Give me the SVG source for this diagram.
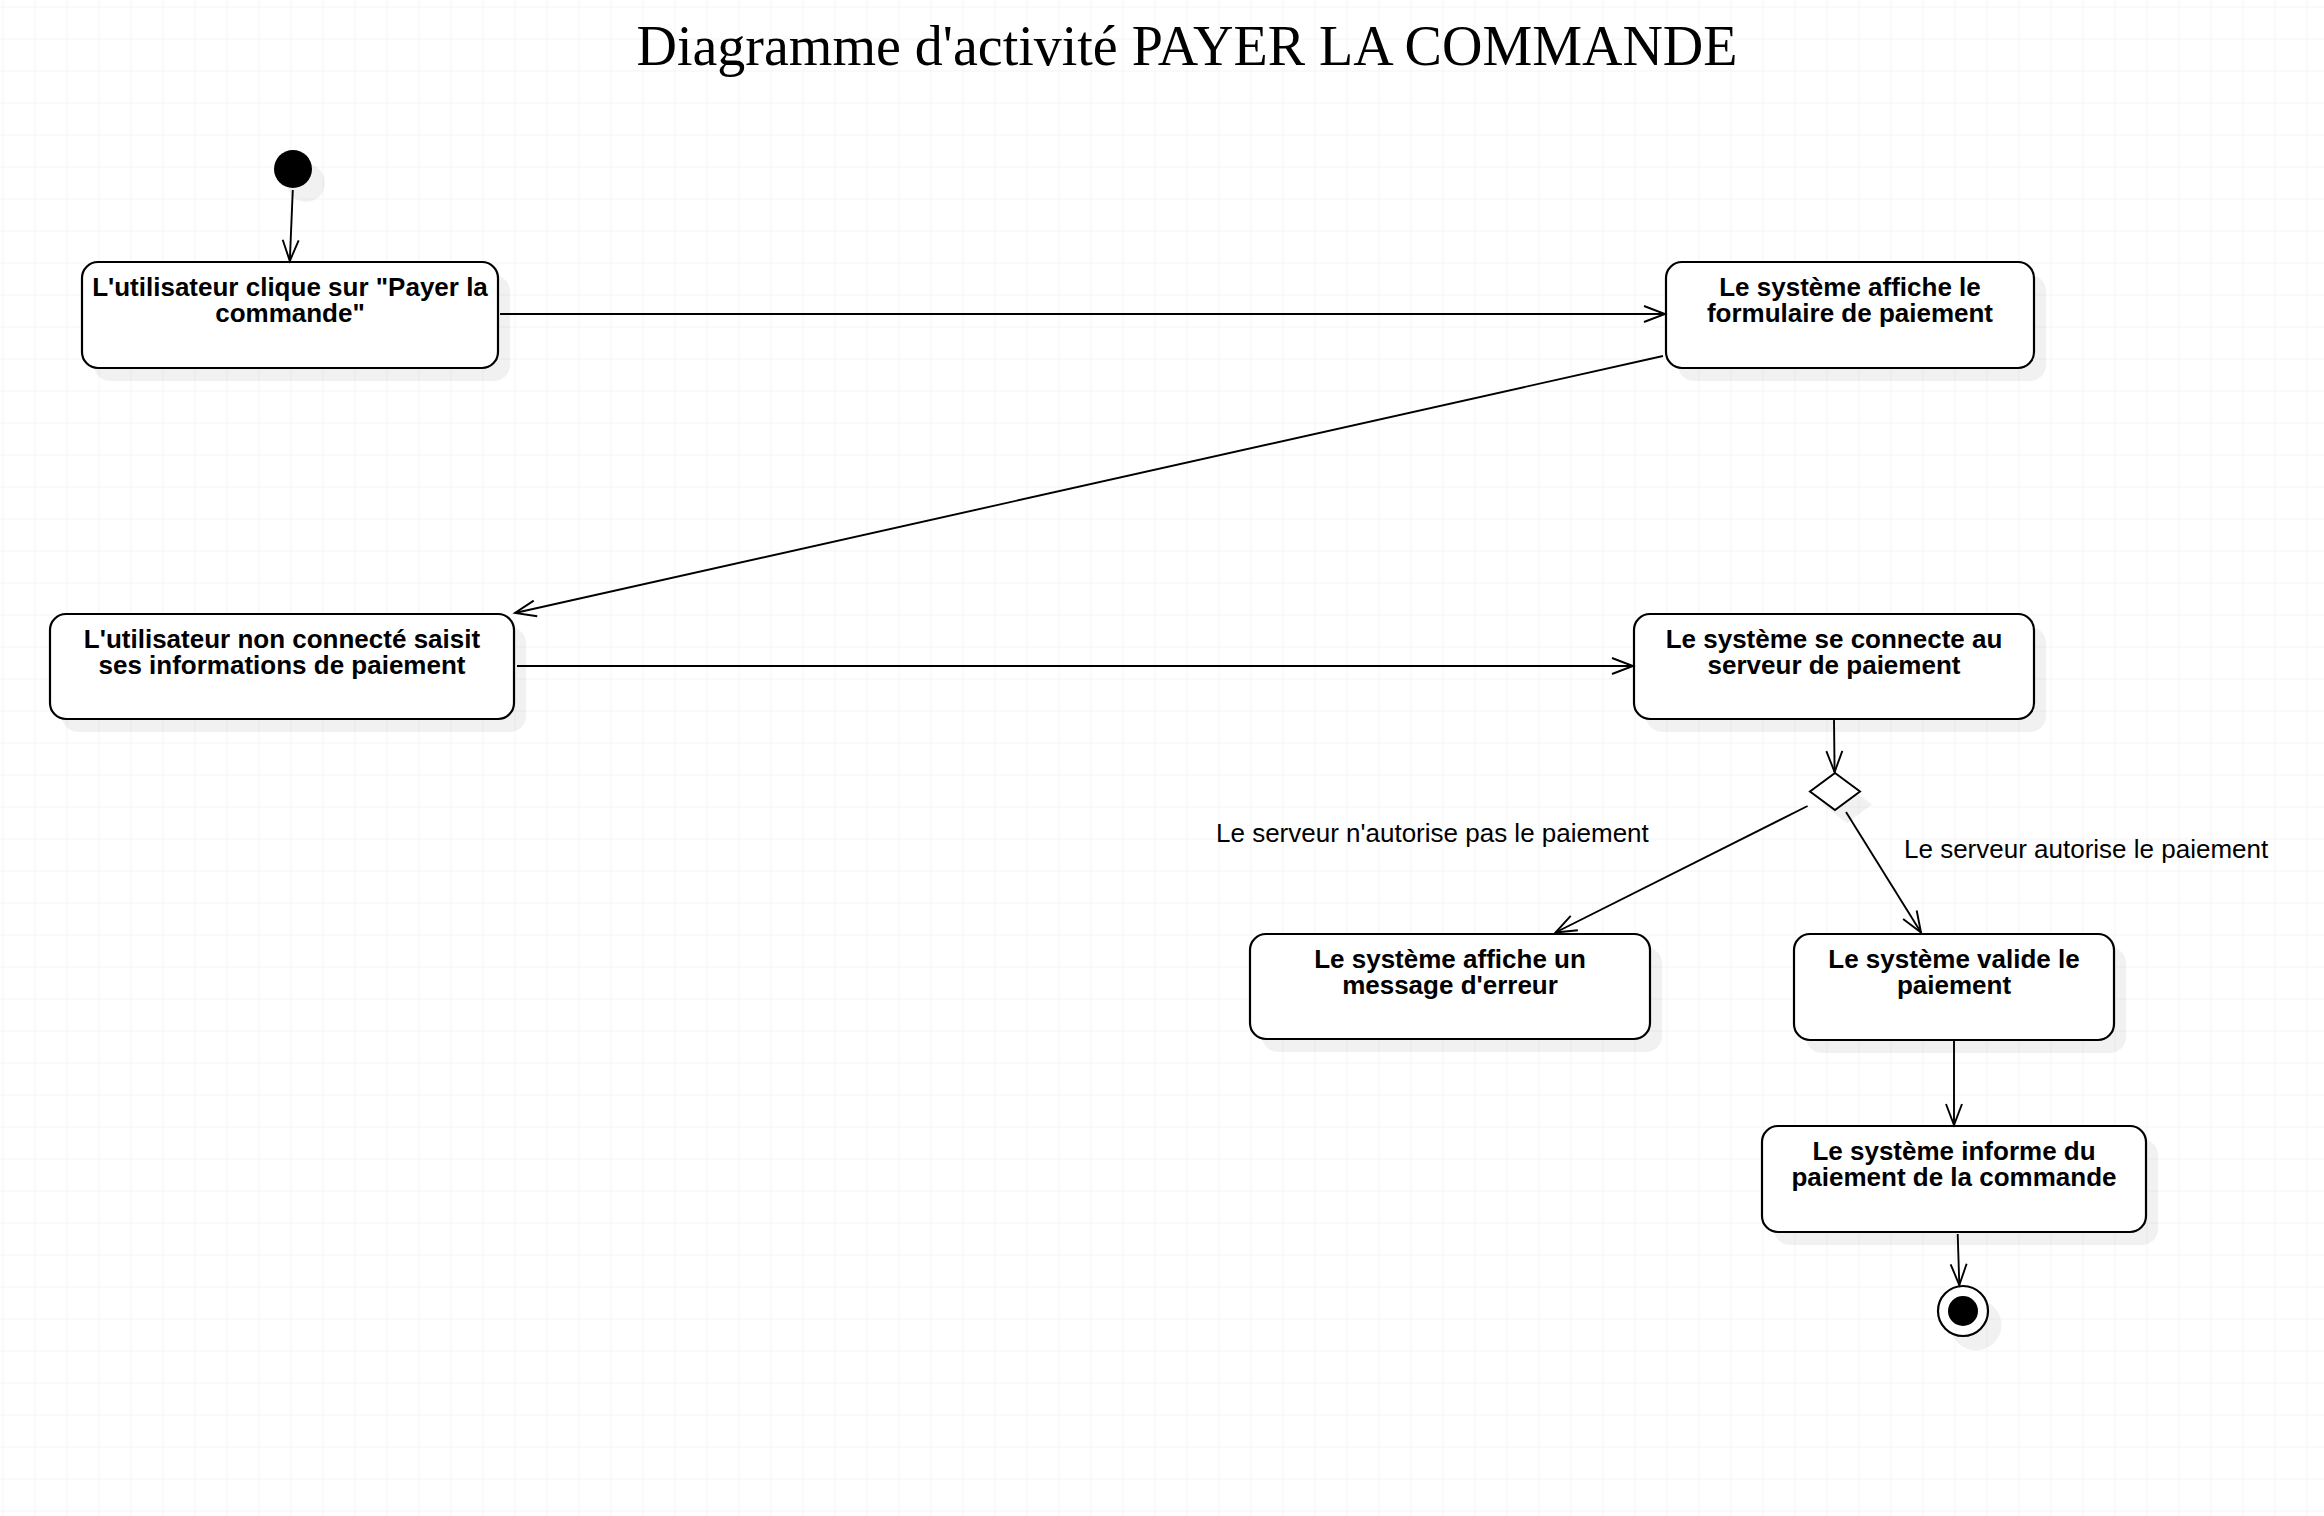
<svg xmlns="http://www.w3.org/2000/svg" width="2324" height="1516" viewBox="0 0 2324 1516">
<defs>
<pattern id="grid" patternUnits="userSpaceOnUse" x="2.5" y="6.5" width="32" height="32">
<path d="M0 0H32M0 0V32" fill="none" stroke="#ebebeb" stroke-width="1"/>
</pattern>
<marker id="open" markerUnits="userSpaceOnUse" markerWidth="24" markerHeight="20" refX="21" refY="8" orient="auto" overflow="visible">
<path d="M0 0L21 8L0 16" fill="none" stroke="#000" stroke-width="1.9"/>
</marker>
<style>
.box{fill:#fff;stroke:#000;stroke-width:2.2}
.shadow{fill:#000;fill-opacity:0.055;stroke:none}
.lbl{font-family:"Liberation Sans",Arial,sans-serif;font-weight:bold;font-size:26px;text-anchor:middle;fill:#000}
.guard{font-family:"Liberation Sans",Arial,sans-serif;font-size:26px;fill:#000}
.edge{fill:none;stroke:#000;stroke-width:1.9;marker-end:url(#open)}
</style>
</defs>
<rect width="2324" height="1516" fill="#fff"/>
<rect width="2324" height="1516" fill="url(#grid)"/>

<text x="1187" y="65" font-family="'Liberation Serif','Times New Roman',serif" font-size="56" text-anchor="middle" textLength="1101" lengthAdjust="spacingAndGlyphs" fill="#000">Diagramme d'activité PAYER LA COMMANDE</text>

<g id="start">
<circle cx="306" cy="183" r="19" class="shadow"/>
<circle cx="293" cy="169" r="19" fill="#000"/>
</g>

<g id="n1">
<rect x="94" y="275" width="416" height="106" rx="16" class="shadow"/>
<rect x="82" y="262" width="416" height="106" rx="16" class="box"/>
<text class="lbl" x="290" y="296">L'utilisateur clique sur "Payer la</text>
<text class="lbl" x="290" y="322">commande"</text>
</g>

<g id="n2">
<rect x="1678" y="275" width="368" height="106" rx="16" class="shadow"/>
<rect x="1666" y="262" width="368" height="106" rx="16" class="box"/>
<text class="lbl" x="1850" y="296">Le système affiche le</text>
<text class="lbl" x="1850" y="322">formulaire de paiement</text>
</g>

<g id="n3">
<rect x="62" y="627" width="464" height="105" rx="16" class="shadow"/>
<rect x="50" y="614" width="464" height="105" rx="16" class="box"/>
<text class="lbl" x="282" y="648">L'utilisateur non connecté saisit</text>
<text class="lbl" x="282" y="674">ses informations de paiement</text>
</g>

<g id="n4">
<rect x="1646" y="627" width="400" height="105" rx="16" class="shadow"/>
<rect x="1634" y="614" width="400" height="105" rx="16" class="box"/>
<text class="lbl" x="1834" y="648">Le système se connecte au</text>
<text class="lbl" x="1834" y="674">serveur de paiement</text>
</g>

<g id="decision">
<path d="M1847 786L1872 804.5L1847 823L1822 804.5Z" class="shadow"/>
<path d="M1835 773L1860 791.5L1835 810L1810 791.5Z" fill="#fff" stroke="#000" stroke-width="2"/>
</g>

<g id="n5">
<rect x="1262" y="947" width="400" height="105" rx="16" class="shadow"/>
<rect x="1250" y="934" width="400" height="105" rx="16" class="box"/>
<text class="lbl" x="1450" y="968">Le système affiche un</text>
<text class="lbl" x="1450" y="994">message d'erreur</text>
</g>

<g id="n6">
<rect x="1806" y="947" width="320" height="106" rx="16" class="shadow"/>
<rect x="1794" y="934" width="320" height="106" rx="16" class="box"/>
<text class="lbl" x="1954" y="968">Le système valide le</text>
<text class="lbl" x="1954" y="994">paiement</text>
</g>

<g id="n7">
<rect x="1774" y="1139" width="384" height="106" rx="16" class="shadow"/>
<rect x="1762" y="1126" width="384" height="106" rx="16" class="box"/>
<text class="lbl" x="1954" y="1160">Le système informe du</text>
<text class="lbl" x="1954" y="1186">paiement de la commande</text>
</g>

<g id="end">
<circle cx="1976" cy="1325" r="25.5" class="shadow"/>
<circle cx="1963" cy="1311" r="25" fill="#fff" stroke="#000" stroke-width="2.2"/>
<circle cx="1963" cy="1311" r="15" fill="#000"/>
</g>

<g id="edges">
<path class="edge" d="M292.8 190L289.8 261"/>
<path class="edge" d="M500 314L1665 314"/>
<path class="edge" d="M1663 356L515 613"/>
<path class="edge" d="M517 666L1633 666"/>
<path class="edge" d="M1834 720L1834.6 772"/>
<path class="edge" d="M1807.6 806L1555.5 932.5"/>
<path class="edge" d="M1846 812L1921 932.5"/>
<path class="edge" d="M1954 1041L1954 1125"/>
<path class="edge" d="M1957.7 1234L1959.3 1285"/>
<text class="guard" x="1216" y="842">Le serveur n'autorise pas le paiement</text>
<text class="guard" x="1904" y="858">Le serveur autorise le paiement</text>
</g>
</svg>
